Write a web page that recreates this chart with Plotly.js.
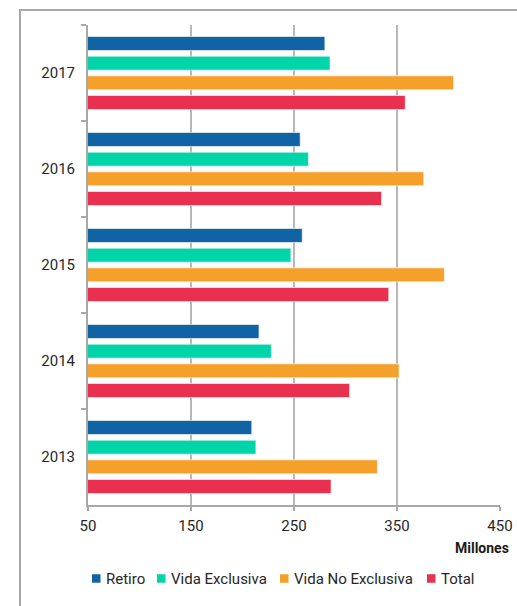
<!DOCTYPE html>
<html>
<head>
<meta charset="utf-8">
<script src="https://cdn.plot.ly/plotly-3.0.1.min.js"></script>
<style>
  html, body { margin: 0; padding: 0; background: #ffffff; }
  #chart { width: 517px; height: 606px; position: absolute; left: 0; top: 0; }
  #frame { position: absolute; left: 19px; top: 9px; width: 600px; height: 700px;
           border-left: 2px solid #a8a8a8; border-top: 2px solid #a8a8a8; pointer-events: none; }
</style>
</head>
<body>
<div id="chart"></div>
<div id="frame"></div>
<script>
const years = ['2017', '2016', '2015', '2014', '2013'];
const seriesNames = ['Retiro', 'Vida Exclusiva', 'Vida No Exclusiva', 'Total'];
const retiro = [280, 256, 258, 216, 209];
const vidaExclusiva = [285, 264, 247, 228, 213];
const vidaNoExclusiva = [405, 376, 396, 352, 331];
const total = [358, 335, 342, 304, 286];
const colors = ['#1064a4', '#00d4aa', '#f5a02a', '#e8314e'];
const xTicks = [50, 150, 250, 350, 450];

// plot-area geometry (pixels) used to place the custom legend row
const M = { l: 88, r: 17, t: 25, b: 101 };
const W = 517, H = 606;
const plotW = W - M.l - M.r, plotH = H - M.t - M.b;
const px2x = p => (p - M.l) / plotW;
const py2y = p => (H - M.b - p) / plotH;
const legendSquareLeft = [92, 157, 280, 427];
const legendRowY = 578.5;

const allValues = [retiro, vidaExclusiva, vidaNoExclusiva, total];
const traces = allValues.map((vals, i) => ({
  type: 'bar',
  orientation: 'h',
  name: seriesNames[i],
  y: years,
  x: vals,
  base: 0,
  marker: { color: colors[i], line: { color: 'rgba(255,255,255,0.6)', width: 1 } },
  hoverinfo: 'x+name'
}));

const legendShapes = seriesNames.map((n, i) => ({
  type: 'rect', xref: 'paper', yref: 'paper', layer: 'above',
  x0: px2x(legendSquareLeft[i]), x1: px2x(legendSquareLeft[i] + 8.5),
  y0: py2y(legendRowY + 4.25), y1: py2y(legendRowY - 4.25),
  fillcolor: colors[i], line: { width: 0 }
}));
const legendLabels = seriesNames.map((n, i) => ({
  text: n, xref: 'paper', yref: 'paper',
  x: px2x(legendSquareLeft[i] + 12), xanchor: 'left',
  y: py2y(legendRowY + 0.5), yanchor: 'middle',
  showarrow: false, font: { size: 15, color: '#262626' }
}));

const layout = {
  width: W,
  height: H,
  margin: { l: M.l, r: M.r, t: M.t, b: M.b, autoexpand: false },
  paper_bgcolor: 'rgba(0,0,0,0)',
  plot_bgcolor: 'rgba(0,0,0,0)',
  font: { family: 'Roboto, sans-serif', size: 15, color: '#262626' },
  barmode: 'group',
  bargap: 0.18,
  bargroupgap: 0.29,
  showlegend: false,
  xaxis: {
    range: [50, 450],
    tickvals: xTicks,
    ticktext: xTicks.map(String),
    showgrid: true,
    gridcolor: '#b8b8b8',
    gridwidth: 2,
    zeroline: false,
    showline: true,
    linecolor: '#a8a8a8',
    linewidth: 2,
    ticks: 'outside',
    ticklen: 4,
    tickwidth: 1.5,
    tickcolor: '#a8a8a8',
    ticklabelstandoff: 2,
    tickfont: { size: 15, color: '#262626' },
    fixedrange: true
  },
  yaxis: {
    type: 'category',
    categoryorder: 'array',
    categoryarray: years,
    autorange: 'reversed',
    showgrid: false,
    showline: true,
    linecolor: '#a8a8a8',
    linewidth: 2,
    ticks: 'outside',
    tickson: 'boundaries',
    ticklen: 5,
    tickwidth: 2,
    tickcolor: '#a8a8a8',
    ticklabelstandoff: 8,
    tickfont: { size: 15, color: '#262626' },
    fixedrange: true
  },
  shapes: legendShapes,
  annotations: [{
    text: '<b>Millones</b>',
    xref: 'paper', yref: 'paper',
    x: px2x(511), xanchor: 'right',
    y: py2y(548), yanchor: 'middle',
    showarrow: false,
    font: { size: 14, color: '#1a1a1a' }
  }].concat(legendLabels)
};

Plotly.newPlot('chart', traces, layout, { displayModeBar: false, staticPlot: true });
</script>
</body>
</html>
